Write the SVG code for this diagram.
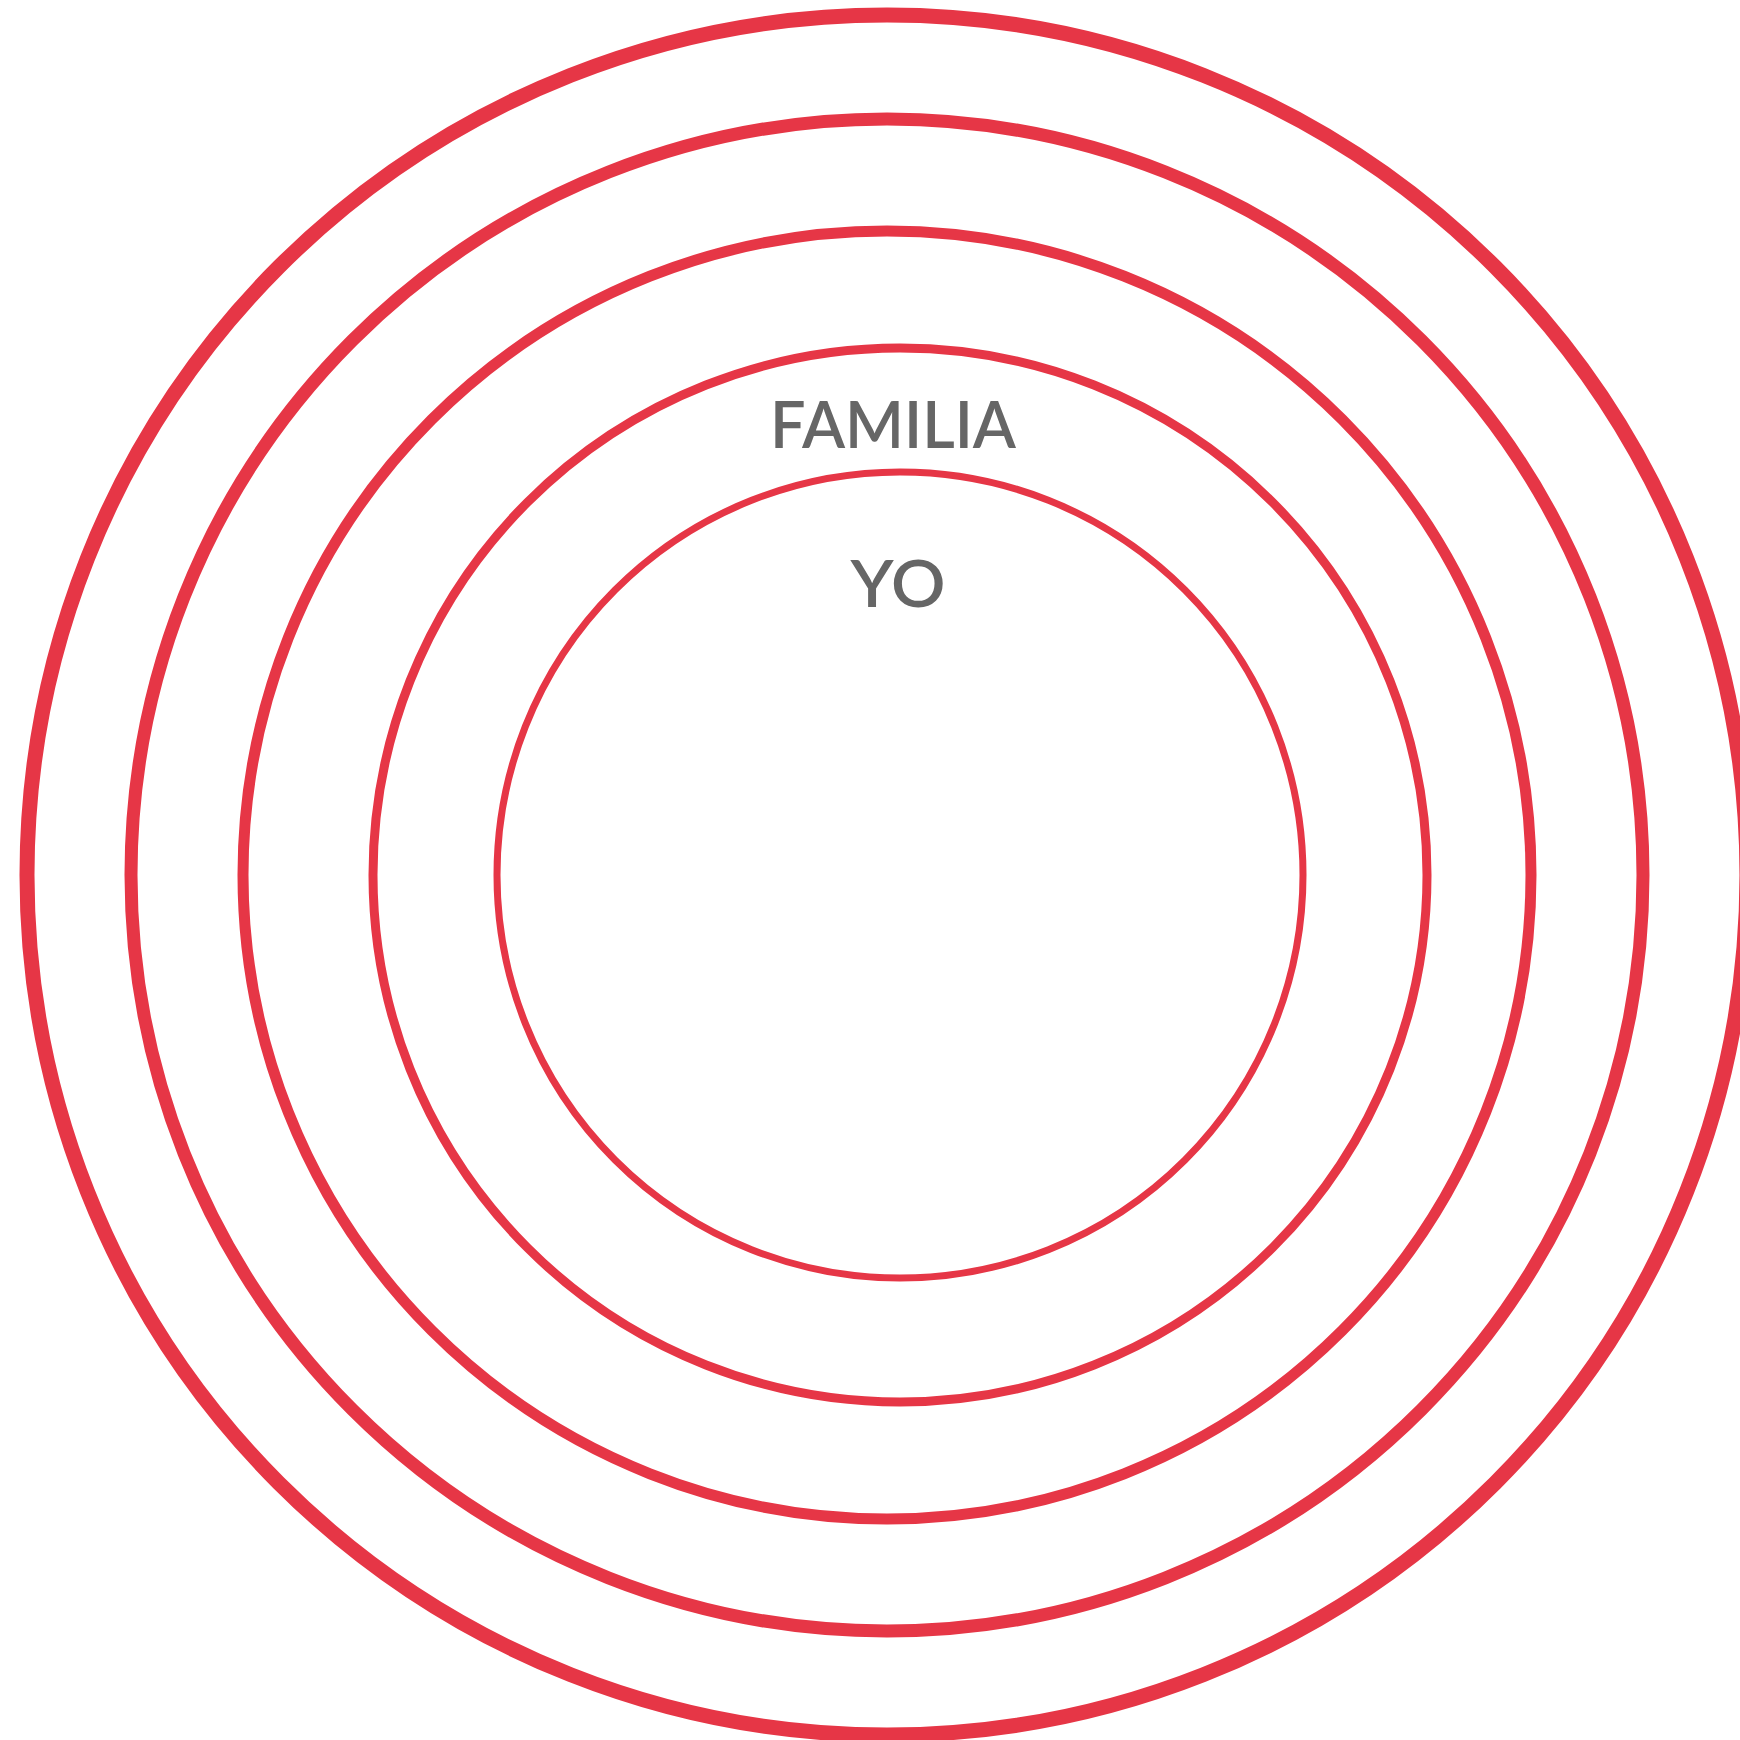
<svg xmlns="http://www.w3.org/2000/svg" width="1740" height="1740" viewBox="0 0 1740 1740">
<style>
.ring{fill:none;stroke:#e63646}
.lbl{font-family:Lato,"Open Sans","Liberation Sans",sans-serif;font-weight:600;font-size:66px;fill:#666666;text-anchor:middle}
</style>
<rect width="1740" height="1740" fill="#ffffff"/>
<g id="ring-outer"><circle class="ring" cx="887" cy="875" r="860" stroke-width="15"/></g>
<g id="ring-2"><circle class="ring" cx="887" cy="875" r="756" stroke-width="13"/></g>
<g id="ring-3"><circle class="ring" cx="887" cy="875" r="644" stroke-width="11"/></g>
<g id="ring-familia"><circle class="ring" cx="900" cy="875" r="527" stroke-width="9"/>
<text class="lbl" x="893" y="448" textLength="246" lengthAdjust="spacingAndGlyphs">FAMILIA</text></g>
<g id="ring-yo"><circle class="ring" cx="900" cy="875" r="403" stroke-width="7"/>
<text class="lbl" x="898" y="607" textLength="95" lengthAdjust="spacingAndGlyphs">YO</text></g>
<g id="connectors"/>
</svg>
